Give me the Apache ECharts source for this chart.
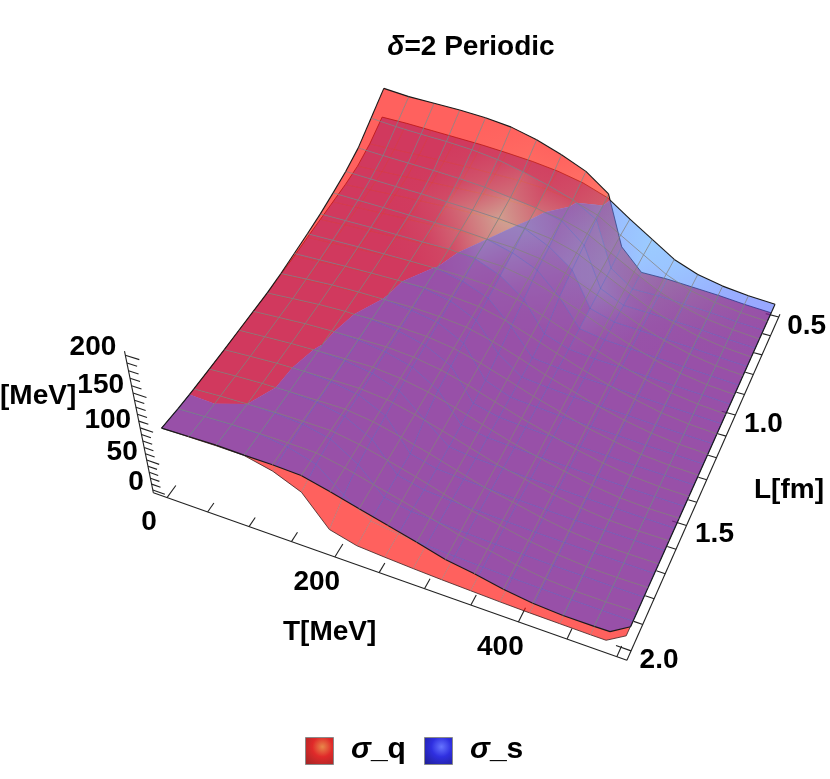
<!DOCTYPE html>
<html>
<head>
<meta charset="utf-8">
<title>sigma surfaces</title>
<script src="https://cdn.jsdelivr.net/npm/echarts@6/dist/echarts.min.js"></script>
<style>
html,body{margin:0;padding:0;background:#fff;}
#main{width:830px;height:779px;}
</style>
</head>
<body>
<div id="main"></div>
<script>
// grid of the two surfaces
var tValues = [0,31.25,62.5,93.75,125,156.25,187.5,218.75,250,281.25,312.5,343.75,375,406.25,437.5,468.75,500];
var lValues = [2,1.90625,1.8125,1.71875,1.625,1.53125,1.4375,1.34375,1.25,1.15625,1.0625,0.96875,0.875,0.78125,0.6875,0.59375,0.5];

var sigmaQ = [
  [100,100.5,101,100.5,91,73,27,15.5,12.5,10,8,6.5,5,4,3.5,3,3],
  [97,98.5,100,99.5,94,82,48,20,14,11,9,7,5.5,4.5,3.5,3,3],
  [96.2,98.3,99.5,99,96,87,62,23,15,12,9.5,7.5,6,4.5,4,3,3],
  [95.8,97.9,99.4,99.6,97,89,68,25,15,12,10,8,6,5,4,3.5,3],
  [95.5,97.5,99.4,99.7,97,90,72,26,15.5,12.5,10,8,6.5,5,4,3.5,3],
  [95.8,97.7,99.5,100.4,98,92,79,48,18,13,11,8.5,7,5.5,4.5,3.5,3],
  [96,98.2,100.3,101.2,99.5,94,84,62,21,14,11.5,9,7.5,6,4.5,3.5,3],
  [96,98.5,101,102,101,96,87,69,24,15,12,9.5,8,6.5,5,4,3],
  [98,100.5,102.5,103,102.9,98.5,92,74,30,16,13,10,8.5,7,5,4,3],
  [101.5,102.5,103.5,104,104.3,103,96,80,42,18,14,11,9,7.5,5.5,4,3],
  [105,105.5,106,106,105.8,105.4,98,85,55,19,15,11.5,10,8,6,4.5,3],
  [109,109,109,108.5,108,107.8,104.5,91,68,28,16,12.5,11,8.5,6.5,5,3],
  [115,114,113,112,111,110,107,98,84,56,20,14,11.5,9,7,5,3],
  [122,120.5,119,118,116,114,111.5,107.3,92,70,24,14,12,9.5,7.5,5,3],
  [132,130,128.5,127,125,122,117,112,104,80,28,13,12,10,8,5,3],
  [150,147,145,143.5,141,136.5,129,120,109.5,92,33,12,12,10,8,5,3],
  [168,165,164,163,161,157,149,138,125,104,40,12,12,10,8,5,3]
];
var sigmaS = [
  [100,101,102,101,101,99,89,78,67,56,44,37,28,22,19,19,20],
  [97.5,99,100.5,100.5,100.5,99.5,91,80,69.5,58,46,38.5,29.5,23,19.5,19,20],
  [96,98,99.5,100.5,100.5,100,93,83,72,60,48,40,31,24.5,20.5,19.5,20],
  [95.5,97.5,99,100,100,100,94.5,85,74,62,50,41.5,32.5,25.5,21,20,20],
  [95.2,97,99,100,100,100,96,87,76,64,52,43,34,27,22,20,20],
  [95.4,97.2,99,100.5,101,101,97,89.5,79,67,55,45,36,28,22.5,20,20],
  [95.5,97.5,99.6,101,101.5,101.5,98.5,92,82,70,58,48,37.5,29.5,23.5,20.5,19.5],
  [95.5,97.8,100.3,101.5,102,102,100,94.5,85,73,60.5,50,39,31,24,20.5,19],
  [97,99,101,102,103,103,101,97,88,76,63,52,41,32,25,21,19],
  [98,100,102,103,104,104.5,103,99.5,91,79,66,54,43,33.5,25.5,21,18.5],
  [100,101.5,103,104,105,105.5,104.5,102,94,82,69,57,45,34.5,26,21,18],
  [101.5,103,104,105,106,107,106,104,97,86,73,59,46.5,35,26.5,21,18],
  [103,104,105,106,107,108,107,105,100,90,76,62,48,36,27,21,18],
  [104.5,106,107.5,108.5,109.5,110,110,108,103,93.5,78,62,47,35,26,20.5,17.5],
  [108,109,110,111,112,113,113,111,106,96,79,62,46,33.5,25,20,17],
  [117,117.5,118,118,118,117.5,117,114.5,108.5,98,80,62,44,31,23.5,19,16.5],
  [132,131.5,130,128.5,127,124.5,121.5,117,110,99,79,60,41,29,22,18,16]
];

var tMinorTicks = [0,50,100,150,200,250,300,350,400,450,500];
var tLabels = [0,200,400];
var lMinorTicks = [0.5,0.6,0.7,0.8,0.9,1.0,1.1,1.2,1.3,1.4,1.5,1.6,1.7,1.8,1.9,2.0];
var lLabels = ['0.5','1.0','1.5','2.0'];
var zMinorTicks = [0,10,20,30,40,50,60,70,80,90,100,110,120,130,140,150,160,170,180,190,200];
var zLabels = [0,50,100,150,200];

// camera, fitted by hand to the axis ticks of the picture
function project(T, L, z){
    var u = T / 100, t = 2.035 - L;
    var w = 1 - 0.0215 * u + 0.1205 * t - 0.00073 * z;
    return [(167 + 76.7 * u + 181.9 * t - 0.229 * z) / w,
            (497.6 + 17.7 * u - 160.9 * t - 0.933 * z) / w];
}

var FONT = '"Liberation Sans", Arial, sans-serif';
var Q_BASE = [255,15,10], Q_TINT = [255,235,120], Q_ALPHA = 0.66;
var S_BASE = [30,60,255], S_TINT = [40,170,255], S_ALPHA = 0.46, S_ALPHA_UNDER = 0.6;

// light spots on the surfaces: [T, L, width in T, width in L, strength]
var Q_LIGHTS = [[195,0.8,38,0.1,0.85],[300,0.68,32,0.1,0.6]];
var S_LIGHTS = [[350,0.52,55,0.14,0.9]];

function buildShade(lights){
    var out = [];
    for(var j=0;j<lValues.length;j++){
        out[j] = [];
        for(var i=0;i<tValues.length;i++){
            var s = 0;
            lights.forEach(function(l){
                var a = (tValues[i]-l[0])/l[2], b = (lValues[j]-l[1])/l[3];
                s += l[4]*Math.exp(-(a*a+b*b)/2);
            });
            out[j][i] = Math.min(1,s);
        }
    }
    return out;
}
var shadeQ = buildShade(Q_LIGHTS);
var shadeS = buildShade(S_LIGHTS);

function vertex(i,j){
    return {T:tValues[i], L:lValues[j], q:sigmaQ[j][i], s:sigmaS[j][i], sq:shadeQ[j][i], ss:shadeS[j][i]};
}
function lerpVertex(a,b,f){
    var o = {};
    for(var k in a){ o[k] = a[k] + (b[k]-a[k])*f; }
    return o;
}
// keep the part of a polygon where q-s has the given sign
function clipPoly(poly, sign){
    var res = [];
    for(var k=0;k<poly.length;k++){
        var a = poly[k], b = poly[(k+1)%poly.length];
        var da = (a.q-a.s)*sign, db = (b.q-b.s)*sign;
        if(da >= 0){ res.push(a); }
        if((da > 0 && db < 0) || (da < 0 && db > 0)){
            res.push(lerpVertex(a,b,da/(da-db)));
        }
    }
    return res;
}
function rgba(c, a){ return 'rgba('+Math.round(c[0])+','+Math.round(c[1])+','+Math.round(c[2])+','+a+')'; }
function shadeColor(which, s, under){
    var base = which==='q'?Q_BASE:S_BASE, tint = which==='q'?Q_TINT:S_TINT;
    var alpha = which==='q'?Q_ALPHA:(under?S_ALPHA_UNDER:S_ALPHA);
    var c = [base[0]+(tint[0]-base[0])*s*0.85, base[1]+(tint[1]-base[1])*s*0.85, base[2]+(tint[2]-base[2])*s*0.85];
    return rgba(c, alpha);
}

var lowerFills = [], upperFills = [], lowerLines = [], upperLines = [];

function addFill(list, poly, which, under){
    if(poly.length < 3){ return; }
    var lo = poly[0], hi = poly[0], key = which==='q'?'sq':'ss';
    for(var k=1;k<poly.length;k++){
        if(poly[k][key] < lo[key]){ lo = poly[k]; }
        if(poly[k][key] > hi[key]){ hi = poly[k]; }
    }
    list.push({kind:'fill', which:which, poly:poly, lo:lo, hi:hi, key:key, under:under});
}
function addLine(which, a, b, border){
    var da = a.q-a.s, db = b.q-b.s;
    var sgn = which==='q'?1:-1;
    var push = function(p,q,mid){
        var up = mid*sgn > 0;
        (up ? upperLines : lowerLines).push({kind:'line', which:which, a:p, b:q, border:border, up:up});
    };
    if(da*db < 0){
        var m = lerpVertex(a,b,da/(da-db));
        push(a,m,da); push(m,b,db);
    }else{
        push(a,b,da+db);
    }
}

// the sampled region stops short of the T=500, L=2 corner
var cornerA = lerpVertex(vertex(15,0),vertex(16,0),0.5);
var cornerB = lerpVertex(vertex(16,0),vertex(16,1),0.4);

for(var j=15;j>=0;j--){
    for(var i=0;i<16;i++){
        var quad = [vertex(i,j),vertex(i+1,j),vertex(i+1,j+1),vertex(i,j+1)];
        if(i===15 && j===0){ quad = [vertex(15,0),cornerA,cornerB,vertex(16,1),vertex(15,1)]; }
        var qUp = clipPoly(quad,1), sUp = clipPoly(quad,-1);
        addFill(lowerFills, sUp, 'q', true);
        addFill(lowerFills, qUp, 's', true);
        addFill(upperFills, qUp, 'q', false);
        addFill(upperFills, sUp, 's', false);
    }
}
['q','s'].forEach(function(which){
    for(var j=0;j<=16;j++){
        for(var i=0;i<=16;i++){
            var edgeEnd = (i===15 && j===0) ? cornerA : (i<16 ? vertex(i+1,j) : null);
            if(i===16 && j===0){ continue; }
            if(edgeEnd){ addLine(which, vertex(i,j), edgeEnd, j===0||j===16); }
            if(j<16){ addLine(which, vertex(i,j), vertex(i,j+1), i===0||i===16); }
        }
    }
    addLine(which, cornerA, cornerB, true);
    addLine(which, cornerB, vertex(16,1), true);
});
var surfaceItems = lowerFills.concat(lowerLines, upperFills, upperLines);

function zOf(which, v){ return which==='q'?v.q:v.s; }

function renderSurface(params, api){
    var it = surfaceItems[params.dataIndex];
    var pt = function(v, which){
        var p = project(v.T, v.L, zOf(which, v));
        return api.coord(p);
    };
    if(it.kind === 'fill'){
        var pts = it.poly.map(function(v){ return pt(v,it.which); });
        var p0 = pt(it.lo,it.which), p1 = pt(it.hi,it.which);
        var fill = shadeColor(it.which, it.lo[it.key], it.under);
        if(it.hi[it.key]-it.lo[it.key] > 0.02 && (p0[0]!==p1[0] || p0[1]!==p1[1])){
            fill = new echarts.graphic.LinearGradient(p0[0],p0[1],p1[0],p1[1],[
                {offset:0,color:shadeColor(it.which,it.lo[it.key],it.under)},
                {offset:1,color:shadeColor(it.which,it.hi[it.key],it.under)}
            ],true);
        }
        return {type:'polygon', silent:true, shape:{points:pts}, style:{fill:fill, stroke:null}};
    }
    var a = pt(it.a,it.which), b = pt(it.b,it.which);
    var stroke = it.border ? (it.up ? '#1a1a1a' : '#3a2020') : (it.up ? 'rgba(128,128,128,0.85)' : 'rgba(128,128,128,0.5)');
    return {type:'line', silent:true, shape:{x1:a[0],y1:a[1],x2:b[0],y2:b[1]},
        style:{stroke:stroke, lineWidth:it.border?(it.up?1.1:0.8):0.9}};
}

// box and ticks
var BOX_Tmin = -17, BOX_Tmax = 510, BOX_Lfront = 2.035, BOX_Lback = 0.485, BOX_Ztop = 210, Z_SHIFT = 5;
var axisItems = [];
axisItems.push({a:[BOX_Tmin,BOX_Lfront,0], b:[BOX_Tmax,BOX_Lfront,0]});
axisItems.push({a:[BOX_Tmax,BOX_Lfront,0], b:[BOX_Tmax,BOX_Lback,0]});
axisItems.push({a:[BOX_Tmin,BOX_Lfront,0], b:[BOX_Tmin,BOX_Lfront,BOX_Ztop]});
tMinorTicks.forEach(function(v){
    var len = tLabels.indexOf(v)>=0 ? 0.055 : 0.04;
    axisItems.push({a:[v,BOX_Lfront,0], b:[v,BOX_Lfront-len,0]});
});
lMinorTicks.forEach(function(v){
    var len = lLabels.indexOf(v.toFixed(1))>=0 ? 15 : 9;
    axisItems.push({a:[BOX_Tmax,v,0], b:[BOX_Tmax-len,v,0]});
});
zMinorTicks.forEach(function(v){
    var len = zLabels.indexOf(v)>=0 ? 15 : 11;
    axisItems.push({a:[BOX_Tmin,BOX_Lfront,v+Z_SHIFT], b:[BOX_Tmin+len,BOX_Lfront,v+Z_SHIFT]});
});
tLabels.forEach(function(v){
    axisItems.push({text:String(v), at:[v,BOX_Lfront,0], dx:-18, dy:25});
});
lLabels.forEach(function(v){
    axisItems.push({text:v, at:[BOX_Tmax,parseFloat(v),0], dx:28, dy:9});
});
zLabels.forEach(function(v){
    axisItems.push({text:String(v), at:[BOX_Tmin,BOX_Lfront,v+Z_SHIFT], dx:-9, dy:-8, align:'right'});
});

function renderAxis(params, api){
    var it = axisItems[params.dataIndex];
    if(it.text !== undefined){
        var p = api.coord(project(it.at[0],it.at[1],it.at[2]));
        return {type:'text', silent:true, x:p[0]+it.dx, y:p[1]+it.dy,
            style:{text:it.text, font:'bold 28px '+FONT, fill:'#000', align:it.align||'center', verticalAlign:'middle'}};
    }
    var a = api.coord(project(it.a[0],it.a[1],it.a[2])), b = api.coord(project(it.b[0],it.b[1],it.b[2]));
    return {type:'line', silent:true, shape:{x1:a[0],y1:a[1],x2:b[0],y2:b[1]}, style:{stroke:'#222', lineWidth:1.1}};
}

function swatch(x, y, glow, mid, edge){
    return {type:'rect', left:x, top:y, silent:true, shape:{width:28,height:27},
        style:{fill:new echarts.graphic.RadialGradient(0.6,0.35,0.8,[
            {offset:0,color:glow},{offset:0.45,color:mid},{offset:1,color:edge}]), stroke:'#8a8a8a', lineWidth:1}};
}
function axisText(text, x, y){
    return {type:'text', left:x, top:y, silent:true, style:{text:text, font:'bold 28px '+FONT, fill:'#000'}};
}
function legendText(x, suffix){
    return {type:'text', left:x, top:735, silent:true, style:{rich:{
        g:{font:'italic bold 30px '+FONT, fill:'#000'},
        r:{font:'bold 30px '+FONT, fill:'#000'}
    }, text:'{g|σ}{r|'+suffix+'}'}};
}

var chart = echarts.init(document.getElementById('main'), null, {renderer:'canvas'});
chart.setOption({
    animation:false,
    backgroundColor:'#fff',
    title:{
        text:'{i|δ}=2 Periodic', left:466, top:28, textAlign:'center',
        textStyle:{fontFamily:'Liberation Sans', fontWeight:'bold', fontSize:28, color:'#000',
            rich:{i:{fontFamily:'Liberation Sans', fontStyle:'italic', fontWeight:'bold', fontSize:28, color:'#000'}}}
    },
    grid:{left:0,right:0,top:0,bottom:0},
    xAxis:{type:'value',min:0,max:830,show:false},
    yAxis:{type:'value',min:0,max:779,inverse:true,show:false},
    series:[{
        type:'custom', name:'axes', coordinateSystem:'cartesian2d', silent:true, z:1,
        renderItem:renderAxis, data:axisItems.map(function(d,k){return [k];}), encode:{x:[],y:[]}, clip:false
    },{
        type:'custom', name:'surfaces', coordinateSystem:'cartesian2d', silent:true, z:2,
        renderItem:renderSurface, data:surfaceItems.map(function(d,k){return [k];}), encode:{x:[],y:[]},
        progressive:0, clip:false
    }],
    graphic:[
        axisText('[MeV]',0,382),
        axisText('T[MeV]',283,618),
        axisText('L[fm]',754,476),
        swatch(305,737,'#e8884a','#e02a2a','#a82626'),
        legendText(351,'_q'),
        swatch(424,737,'#6674ff','#2f2fe0','#20209c'),
        legendText(470,'_s')
    ]
});
</script>
</body>
</html>
